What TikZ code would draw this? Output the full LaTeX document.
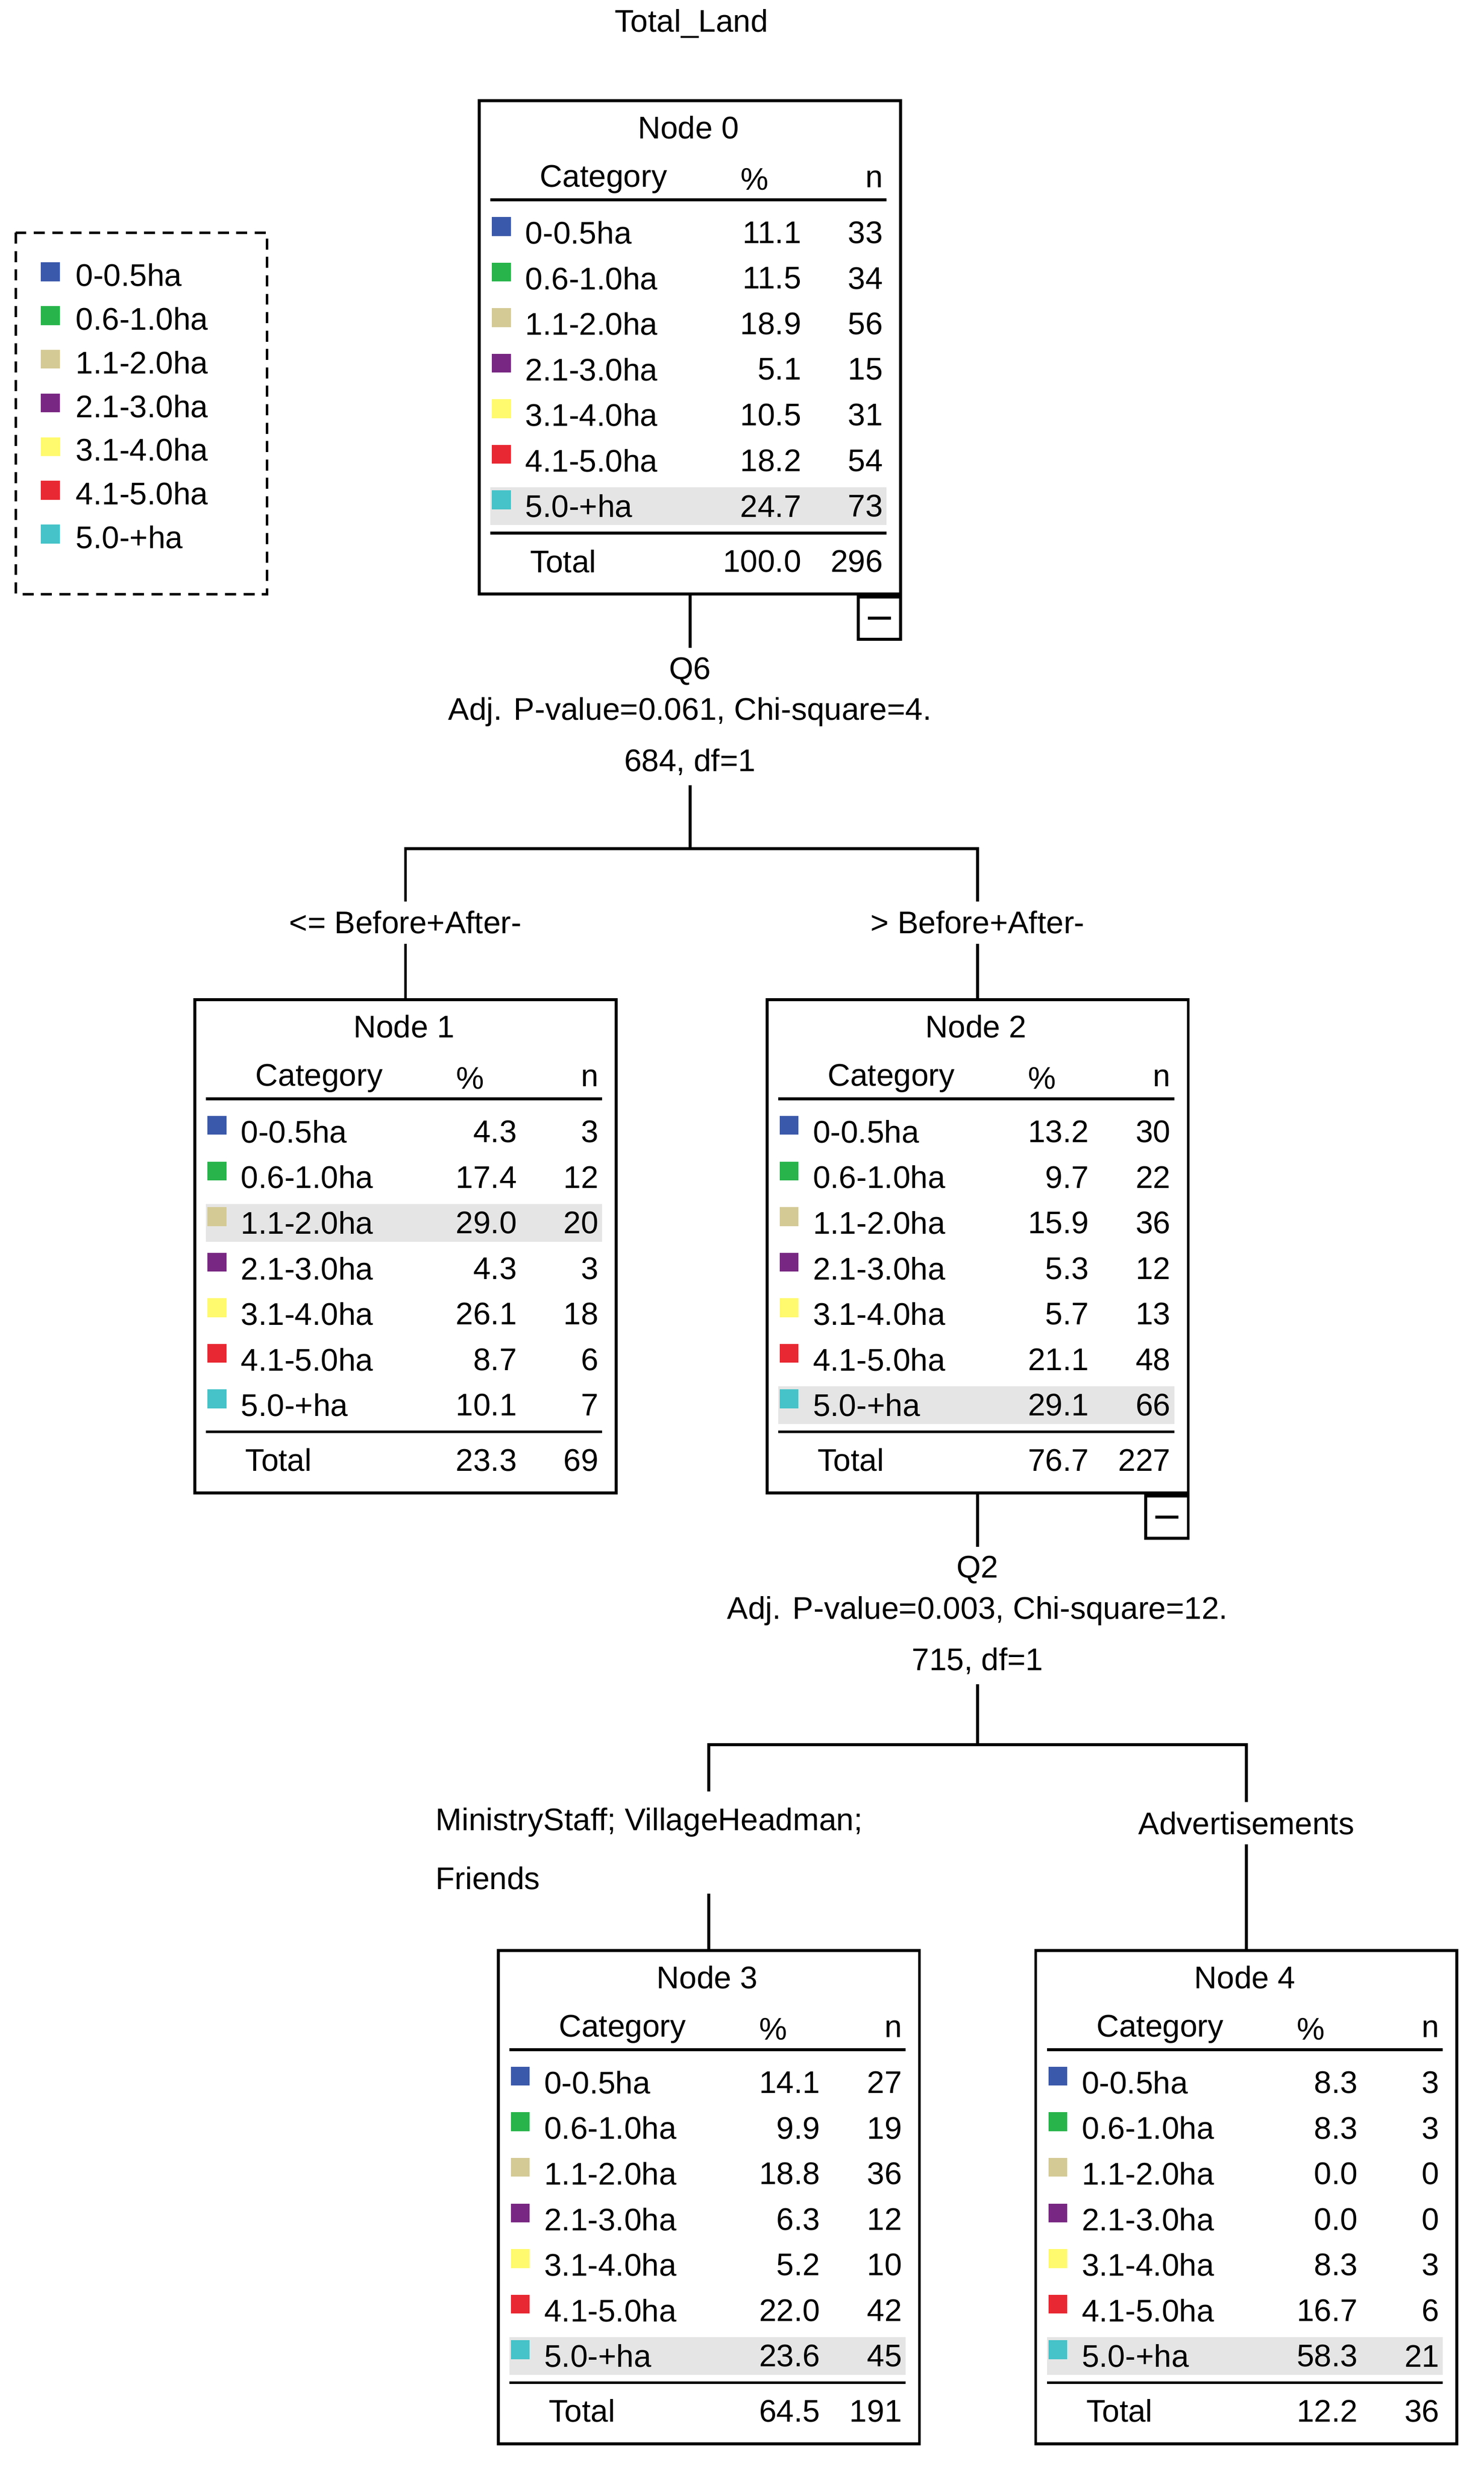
\documentclass[tikz,border=0pt]{standalone}
\usepackage{fontspec}
\setmainfont{Liberation Sans}
\definecolor{c1}{RGB}{59,89,170}
\definecolor{c2}{RGB}{40,180,75}
\definecolor{c3}{RGB}{212,202,150}
\definecolor{c4}{RGB}{120,40,130}
\definecolor{c5}{RGB}{255,250,110}
\definecolor{c6}{RGB}{232,40,50}
\definecolor{c7}{RGB}{70,195,200}
\newcommand{\catname}[1]{\ifcase#1\or 0-0.5ha\or 0.6-1.0ha\or 1.1-2.0ha\or 2.1-3.0ha\or 3.1-4.0ha\or 4.1-5.0ha\or 5.0-+ha\fi}
\tikzset{
  txt/.style={font=\fontsize{17}{20}\selectfont, inner sep=0pt},
  lab/.style={txt, inner sep=5pt},
  box/.style={draw, line width=1.6pt, minimum width=8.04cm, minimum height=9.42cm, inner sep=0pt},
  link/.style={line width=1.6pt},
}
% #1 name, #2 centre, #3 title, #4 highlighted row, #5 rows %/n, #6 total %, #7 total n
\newcommand{\catnode}[7]{%
  \node[box] (#1) at (#2) {};
  \begin{scope}[shift={(#1.north west)}]
    \node[txt] at (134,18) {#3};
    \node[txt] at (80,51) {Category};
    \node[txt] at (176,51) {\%};
    \node[txt, anchor=east] at (258,51) {n};
    \draw[link] (8,64) -- (260,64);
    \foreach \p/\n [count=\i] in {#5} {
      \pgfmathsetmacro\ry{85+29*(\i-1)}
      \ifnum\i=#4 \fill[gray!20] (8,\ry-12) rectangle (260,\ry+12); \fi
      \fill[c\i] (9,\ry-10) rectangle (21,\ry+2);
      \node[txt, anchor=west] at (30,\ry) {\catname{\i}};
      \node[txt, anchor=east] at (206,\ry) {\p};
      \node[txt, anchor=east] at (258,\ry) {\n};
    }
    \draw[link] (8,276) -- (260,276);
    \node[txt, anchor=west] at (33,294) {Total};
    \node[txt, anchor=east] at (206,294) {#6};
    \node[txt, anchor=east] at (258,294) {#7};
  \end{scope}}

\begin{document}
\begin{tikzpicture}[x=0.03cm, y=-0.03cm]
  \fill[white] (0,0) rectangle (944,1571);
  \useasboundingbox (0,0) rectangle (944,1571);

  \node[txt] (title) at (440,15) {Total\_Land};

  % Legend
  \draw[dash pattern=on 6pt off 4pt, line width=1.4pt] (10,148) rectangle (170,378);
  \foreach \i in {1,...,7} {
    \pgfmathsetmacro\ly{175+27.8*(\i-1)}
    \fill[c\i] (26,\ly-8) rectangle (38,\ly+4);
    \node[txt, anchor=west] (leg\i) at (48,\ly) {\catname{\i}};
  }

  % Nodes
  \catnode{n0}{439,221}{Node 0}{7}{11.1/33,11.5/34,18.9/56,5.1/15,10.5/31,18.2/54,24.7/73}{100.0}{296}
  \catnode{n1}{258,793}{Node 1}{3}{4.3/3,17.4/12,29.0/20,4.3/3,26.1/18,8.7/6,10.1/7}{23.3}{69}
  \catnode{n2}{622,793}{Node 2}{7}{13.2/30,9.7/22,15.9/36,5.3/12,5.7/13,21.1/48,29.1/66}{76.7}{227}
  \catnode{n3}{451,1398}{Node 3}{7}{14.1/27,9.9/19,18.8/36,6.3/12,5.2/10,22.0/42,23.6/45}{64.5}{191}
  \catnode{n4}{793,1398}{Node 4}{7}{8.3/3,8.3/3,0.0/0,0.0/0,8.3/3,16.7/6,58.3/21}{12.2}{36}

  % Collapse boxes
  \node[draw, line width=1.6pt, minimum size=0.81cm, inner sep=0pt, anchor=north east] (m0) at (n0.south east) {};
  \draw[link] ([xshift=-0.22cm]m0.center) -- ([xshift=0.22cm]m0.center);
  \node[draw, line width=1.6pt, minimum size=0.81cm, inner sep=0pt, anchor=north east] (m2) at (n2.south east) {};
  \draw[link] ([xshift=-0.22cm]m2.center) -- ([xshift=0.22cm]m2.center);

  % First split
  \node[lab] (q6) at (439,427) {Q6};
  \node[txt] (q6a) at (439,453) {Adj. P-value=0.061, Chi-square=4.};
  \node[lab] (q6b) at (439,485) {684, df=1};
  \coordinate (s0) at (439,540);
  \node[lab] (l1) at (258,587) {<= Before+After-};
  \node[lab] (l2) at (622,587) {> Before+After-};
  \draw[link] (n0.south) -- (q6.north);
  \draw[link] (q6b.south) -- (s0);
  \draw[link] (s0) -| (l1.north);
  \draw[link] (s0) -| (l2.north);
  \draw[link] (l1.south) -- (n1.north);
  \draw[link] (l2.south) -- (n2.north);

  % Second split
  \node[lab] (q2) at (622,999) {Q2};
  \node[txt] (q2a) at (622,1025) {Adj. P-value=0.003, Chi-square=12.};
  \node[lab] (q2b) at (622,1057) {715, df=1};
  \coordinate (s2) at (622,1110);
  \node[txt, align=left, anchor=north west] (l3) at (277,1150) {MinistryStaff; VillageHeadman;\\[12pt]Friends};
  \node[lab] (l4) at (793,1160) {Advertisements};
  \coordinate (l3t) at (451,1140);
  \coordinate (l3b) at (451,1205);
  \draw[link] (n2.south) -- (q2.north);
  \draw[link] (q2b.south) -- (s2);
  \draw[link] (s2) -| (l3t);
  \draw[link] (s2) -| (l4.north);
  \draw[link] (l3b) -- (n3.north);
  \draw[link] (l4.south) -- (n4.north);
\end{tikzpicture}
\end{document}
